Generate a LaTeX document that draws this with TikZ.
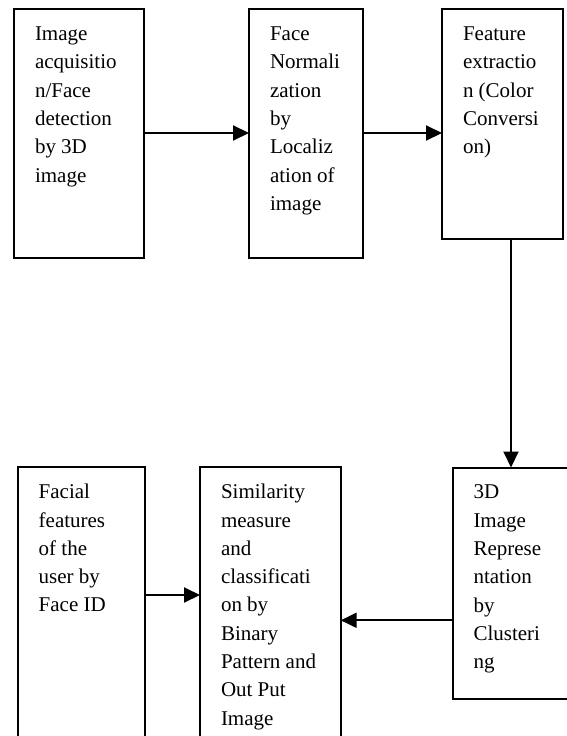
\documentclass[tikz,border=0pt]{standalone}
\usepackage{fontspec}
\setmainfont{Liberation Serif}
\usetikzlibrary{arrows.meta}
\newcommand\boxtxt[3]{\begin{minipage}[t][#2][t]{#1}\fontsize{21pt}{28.3pt}\selectfont\raggedright\leftskip=21pt\relax\rule{0pt}{31.4pt}#3\end{minipage}}
\tikzset{
  box/.style={draw, line width=2pt, inner sep=0pt, outer sep=0pt, anchor=north west},
  arr/.style={-{Triangle[length=16pt,width=15pt]}, line width=2pt}
}
\begin{document}
\begin{tikzpicture}[x=1pt,y=-1pt]
\useasboundingbox (0,0) rectangle (567,736);
\clip (0,0) rectangle (567,736);
\node[box] (b1) at (14,9.3) {\boxtxt{130pt}{248.7pt}{Image\\acquisitio\\n/Face\\detection\\by 3D\\image}};
\node[box] (b2) at (249,9.3) {\boxtxt{114pt}{248.7pt}{Face\\Normali\\zation\\by\\Localiz\\ation of\\image}};
\node[box] (b3) at (442,9.3) {\boxtxt{121pt}{229.7pt}{Feature\\extractio\\n (Color\\Conversi\\on)}};
\node[box] (b4) at (452.5,467.5) {\boxtxt{130pt}{231.2pt}{3D\\Image\\Represe\\ntation\\by\\Clusteri\\ng}};
\node[box] (b5) at (17.7,467.3) {\boxtxt{127.3pt}{300pt}{Facial\\features\\of the\\user by\\Face ID}};
\node[box] (b6) at (200,467.3) {\boxtxt{140.7pt}{300pt}{Similarity\\measure\\and\\classificati\\on by\\Binary\\Pattern and\\Out Put\\Image}};
\coordinate (ytop) at (0,133);
\coordinate (xv) at (511,0);
\coordinate (yr) at (0,620.3);
\coordinate (yl) at (0,595);
\draw[arr] (b1.east |- ytop) -- (b2.west |- ytop);
\draw[arr] (b2.east |- ytop) -- (b3.west |- ytop);
\draw[arr] (b3.south -| xv) -- (b4.north -| xv);
\draw[arr] (b4.west |- yr) -- (b6.east |- yr);
\draw[arr] (b5.east |- yl) -- (b6.west |- yl);
\end{tikzpicture}
\end{document}
